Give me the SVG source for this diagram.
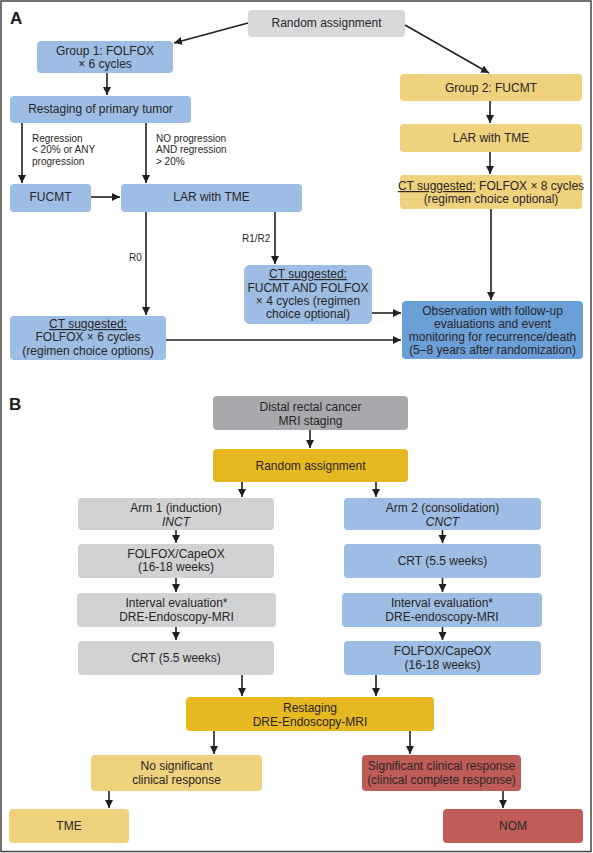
<svg xmlns="http://www.w3.org/2000/svg" width="593" height="853" viewBox="0 0 593 853">
<defs>
<marker id="ah" markerUnits="userSpaceOnUse" markerWidth="9" markerHeight="9" refX="8" refY="4" orient="auto">
<path d="M0,0 L8,4 L0,8 z" fill="#231f20"/>
</marker>
<style>
text{font-family:"Liberation Sans",Arial,sans-serif;font-size:12px;fill:#2a2626;text-anchor:middle}
.lbl{font-size:10px;text-anchor:start}
.pl{font-size:17px;font-weight:bold;text-anchor:start;fill:#1a1a1a}
.u{text-decoration:underline}
.i{font-style:italic}
.blue{fill:#9dbde4}
.dblue{fill:#6a9fd8}
.gray{fill:#d8d9db}
.lgray{fill:#d1d2d4}
.dgray{fill:#a7a9ac}
.gold{fill:#e6b822}
.lgold{fill:#efd17e}
.red{fill:#bf5c58}
#conn path{fill:none;stroke:#231f20;stroke-width:1.6;marker-end:url(#ah)}
</style>
</defs>
<rect x="0" y="0" width="593" height="853" fill="#ffffff"/>
<rect x="1" y="1" width="590" height="850.5" fill="none" stroke="#444444" stroke-width="1.5"/>
<text class="pl" x="10" y="24">A</text>
<text class="pl" x="9" y="410">B</text>

<g id="a_random"><rect class="gray" x="248" y="10" width="157" height="27" rx="4"/><text x="326.5" y="27">Random assignment</text></g>
<g id="a_group1"><rect class="blue" x="37" y="41" width="136" height="32" rx="4"/><text x="105" y="55">Group 1: FOLFOX</text><text x="105" y="68">× 6 cycles</text></g>
<g id="a_restaging"><rect class="blue" x="10" y="96" width="181" height="27" rx="4"/><text x="100.5" y="113">Restaging of primary tumor</text></g>
<g id="a_fucmt"><rect class="blue" x="10" y="184" width="81" height="28" rx="4"/><text x="50.5" y="201">FUCMT</text></g>
<g id="a_lar1"><rect class="blue" x="121" y="184" width="181" height="28" rx="4"/><text x="211.5" y="201">LAR with TME</text></g>
<g id="a_ct_mid"><rect class="blue" x="244" y="265" width="128" height="59" rx="6"/><text x="308" y="278" class="u">CT suggested:</text><text x="308" y="292">FUCMT AND FOLFOX</text><text x="308" y="305">× 4 cycles (regimen</text><text x="308" y="318">choice optional)</text></g>
<g id="a_ct_left"><rect class="blue" x="10" y="316" width="156" height="44" rx="4"/><text x="88" y="328" class="u">CT suggested:</text><text x="88" y="341">FOLFOX × 6 cycles</text><text x="88" y="355">(regimen choice options)</text></g>
<g id="a_group2"><rect class="lgold" x="400" y="74" width="182" height="27" rx="4"/><text x="491" y="92">Group 2: FUCMT</text></g>
<g id="a_lar2"><rect class="lgold" x="400" y="124" width="182" height="28" rx="4"/><text x="491" y="142">LAR with TME</text></g>
<g id="a_ct_right"><rect class="lgold" x="400" y="175" width="182" height="34" rx="4"/><text x="491" y="190"><tspan class="u">CT suggested:</tspan> FOLFOX × 8 cycles</text><text x="491" y="203">(regimen choice optional)</text></g>
<g id="a_obs"><rect class="dblue" x="402" y="301" width="181" height="58" rx="4"/><text x="492.5" y="315">Observation with follow-up</text><text x="492.5" y="328">evaluations and event</text><text x="492.5" y="341">monitoring for recurrence/death</text><text x="492.5" y="354">(5–8 years after randomization)</text></g>

<g id="a_labels">
<text class="lbl" x="32" y="141.5">Regression</text><text class="lbl" x="32" y="153">&lt; 20% or ANY</text><text class="lbl" x="32" y="164.5">progression</text>
<text class="lbl" x="156" y="141.5">NO progression</text><text class="lbl" x="156" y="153">AND regression</text><text class="lbl" x="156" y="164.5">&gt; 20%</text>
<text class="lbl" x="129" y="261">R0</text>
<text class="lbl" x="242" y="241.5">R1/R2</text>
</g>

<g id="b_distal"><rect class="dgray" x="213" y="396" width="195" height="34" rx="4"/><text x="310.5" y="411">Distal rectal cancer</text><text x="310.5" y="425">MRI staging</text></g>
<g id="b_random"><rect class="gold" x="213" y="449" width="195" height="33" rx="4"/><text x="310.5" y="470">Random assignment</text></g>
<g id="b_arm1"><rect class="lgray" x="78" y="498" width="196" height="32" rx="4"/><text x="176" y="512">Arm 1 (induction)</text><text x="176" y="526" class="i">INCT</text></g>
<g id="b_arm2"><rect class="blue" x="344" y="498" width="197" height="32" rx="4"/><text x="442.5" y="512">Arm 2 (consolidation)</text><text x="442.5" y="526" class="i">CNCT</text></g>
<g id="b_folfox1"><rect class="lgray" x="78" y="544" width="196" height="34" rx="4"/><text x="176" y="558">FOLFOX/CapeOX</text><text x="176" y="571">(16-18 weeks)</text></g>
<g id="b_crt2"><rect class="blue" x="344" y="544" width="197" height="34" rx="4"/><text x="442.5" y="565">CRT (5.5 weeks)</text></g>
<g id="b_int1"><rect class="lgray" x="77" y="593" width="199" height="34" rx="4"/><text x="176.5" y="607">Interval evaluation*</text><text x="176.5" y="621">DRE-Endoscopy-MRI</text></g>
<g id="b_int2"><rect class="blue" x="342" y="593" width="200" height="34" rx="4"/><text x="442" y="607">Interval evaluation*</text><text x="442" y="621">DRE-endoscopy-MRI</text></g>
<g id="b_crt1"><rect class="lgray" x="78" y="641" width="196" height="34" rx="4"/><text x="176" y="662">CRT (5.5 weeks)</text></g>
<g id="b_folfox2"><rect class="blue" x="344" y="641" width="197" height="34" rx="4"/><text x="442.5" y="655">FOLFOX/CapeOX</text><text x="442.5" y="669">(16-18 weeks)</text></g>
<g id="b_restaging"><rect class="gold" x="186" y="697" width="248" height="34" rx="4"/><text x="310" y="712">Restaging</text><text x="310" y="726">DRE-Endoscopy-MRI</text></g>
<g id="b_nosig"><rect class="lgold" x="91" y="755" width="171" height="36" rx="4"/><text x="176.5" y="770">No significant</text><text x="176.5" y="784">clinical response</text></g>
<g id="b_sig"><rect class="red" x="362" y="755" width="159" height="36" rx="4"/><text x="441.5" y="770">Significant clinical response</text><text x="441.5" y="784">(clinical complete response)</text></g>
<g id="b_tme"><rect class="lgold" x="9" y="809" width="120" height="34" rx="4"/><text x="69" y="830">TME</text></g>
<g id="b_nom"><rect class="red" x="443" y="809" width="140" height="34" rx="4"/><text x="513" y="830">NOM</text></g>

<g id="conn">
<path d="M248,23 L174,43"/>
<path d="M405,25 L489,73"/>
<path d="M107,73 V95"/>
<path d="M22,123 V183"/>
<path d="M146,123 V183"/>
<path d="M91,197 H120"/>
<path d="M146,212 V315"/>
<path d="M275,212 V264"/>
<path d="M490,101 V123"/>
<path d="M490,152 V174"/>
<path d="M491,209 V300"/>
<path d="M372,313 H401"/>
<path d="M166,340 H401"/>
<path d="M310,430 V448"/>
<path d="M242,482 V497"/>
<path d="M376,482 V497"/>
<path d="M176,530 V543"/>
<path d="M442.5,530 V543"/>
<path d="M176,578 V592"/>
<path d="M442.5,578 V592"/>
<path d="M176,627 V640"/>
<path d="M442.5,627 V640"/>
<path d="M242,675 V696"/>
<path d="M376,675 V696"/>
<path d="M214,731 V754"/>
<path d="M410,731 V754"/>
<path d="M109,791 V808"/>
<path d="M503,791 V808"/>
</g>
</svg>
